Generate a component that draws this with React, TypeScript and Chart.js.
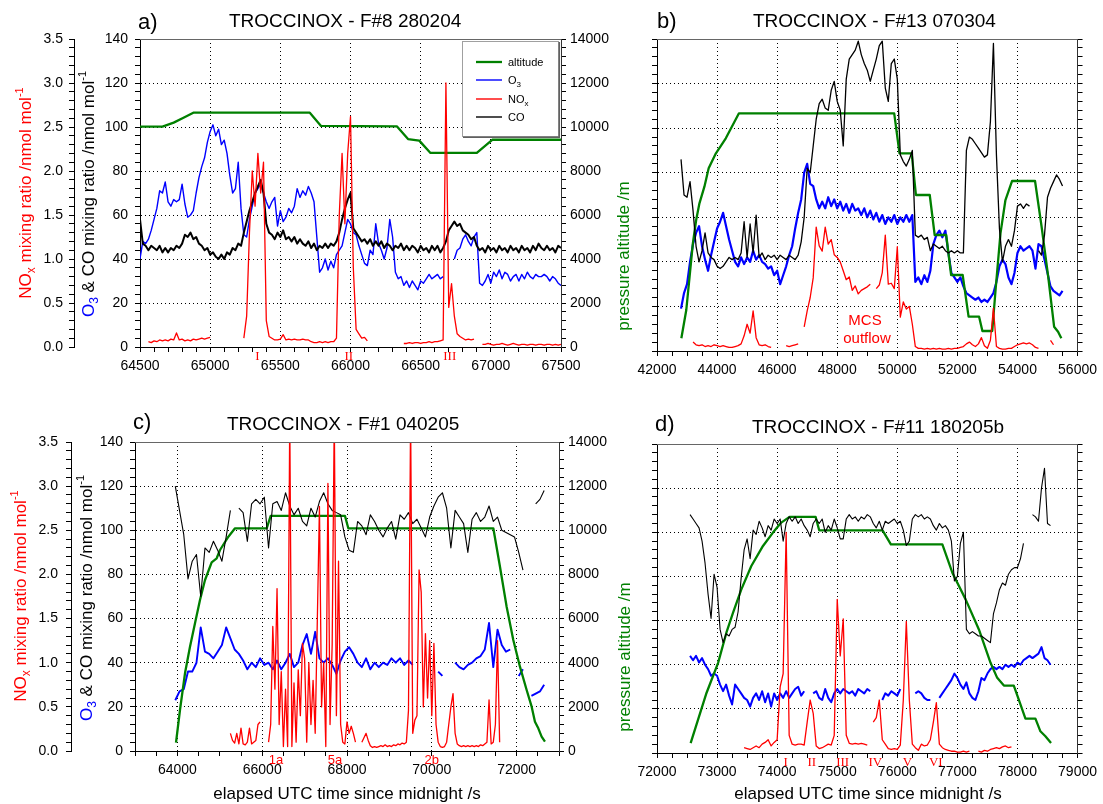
import React, { useEffect, useRef } from "react";
import { Chart, registerables } from "chart.js";

Chart.register(...registerables);

const SANS = "'Liberation Sans', Arial, Helvetica, sans-serif";
const SERIF = "'Liberation Serif', 'Times New Roman', Times, serif";
Chart.defaults.font.family = SANS;

const GREEN = "#008000";
const BLUE = "#0000ff";
const RED = "#ff0000";
const BLACK = "#000000";

// ---------- tick labels ----------
const O3_TICKS = [0, 20, 40, 60, 80, 100, 120, 140];
const O3_GRID = [20, 40, 60, 80, 100, 120];
const NOX_TICKS = [0, 0.5, 1.0, 1.5, 2.0, 2.5, 3.0, 3.5];
const ALT_TICKS = [0, 2000, 4000, 6000, 8000, 10000, 12000, 14000];
const A_XTICKS = [64500, 65000, 65500, 66000, 66500, 67000, 67500];
const A_XGRID = [65000, 65500, 66000, 66500, 67000];
const B_XTICKS = [42000, 44000, 46000, 48000, 50000, 52000, 54000, 56000];
const B_XGRID = [44000, 46000, 48000, 50000, 52000, 54000];
const C_XTICKS = [64000, 66000, 68000, 70000, 72000];
const C_XGRID = [64000, 66000, 68000, 70000, 72000];
const D_XTICKS = [72000, 73000, 74000, 75000, 76000, 77000, 78000, 79000];
const D_XGRID = [73000, 74000, 75000, 76000, 77000, 78000];

// ---------- panel a: TROCCINOX - F#8 280204 ----------
const A_ALT_T = [64500, 64660, 64740, 64810, 64880, 65710, 65790, 66330, 66410, 66490, 66570, 66900, 67010, 67500];
const A_ALT = [10020, 10020, 10200, 10420, 10650, 10650, 10050, 10030, 9450, 9380, 8820, 8820, 9420, 9420];
const A_T0 = 64500;
const A_DT = 20;
const A_O3 = [
  40, 48, 47, 49, 53, 58, 63, 71, 70, 75,
  66, 64, 67, 66, 67, 74, 65, 59, 60, 62,
  70, 77, 82, 86, 93, 98, 101, 96, 99, 92,
  94, 88, 78, 70, 72, 84, 63, 51, 50, 58,
  64, 70, 72, 74, 70, 66, 63, 66, 68, 55,
  62, 57, 59, 63, 61, 64, 72, 68, 71, 69,
  73, 70, 66, 50, 34, 36, 40, 35, 39, 36,
  42, 44, 46, 52, 58, 56, 52, 51, 46, 42,
  38, 37, 44, 42, 56, 47, 44, 40, 45, 58,
  50, 34, 31, 32, 28, 30, 27, 30, 28, 26,
  30, 29, 31, 33, 31, 32, 33, 31, 32, null,
  null, null, 40, 44, 45, 49, 51, 48, 46, 50,
  52, 29, 28, 30, 33, 29, 34, 32, 35, 31,
  34, 33, 30, 32, 33, 30, 33, 31, 34, 32,
  31, 33, 32, 32, 33, 32, 30, 32, 31, 29,
  28,
];
const A_CO = [
  58, 47, 46, 44, 46, 45, 44, 46, 43, 45,
  43, 45, 44, 46, 45, 47, 51, 50, 52, 49,
  50, 47, 46, 44, 45, 42, 43, 41, 40, 42,
  40, 43, 42, 45, 44, 47, 46, 52, 57, 62,
  66, 70, 73, 76, 70, 56, 52, 51, 49, 52,
  50, 53, 49, 50, 48, 50, 47, 49, 47, 46,
  48, 45, 47, 44, 46, 45, 47, 45, 47, 46,
  48, 52, 58, 63, 67, 70, 54, 52, 50, 48,
  49, 47, 49, 46, 48, 46, 48, 45, 47, 46,
  44, 46, 45, 47, 44, 46, 44, 46, 45, 43,
  46, 44, 45, 43, 46, 44, 46, 43, 45, 48,
  53, 55, 57, 55, 56, 53, 52, 51, 49, 50,
  46, 44, 45, 43, 46, 44, 45, 43, 46, 44,
  45, 43, 46, 44, 45, 43, 46, 44, 45, 43,
  46, 44, 47, 45, 44, 46, 44, 45, 43, 46,
  45,
];
const A_NOX = [
  null, null, null, 0.06, 0.05, 0.07, 0.06, 0.08, 0.07, 0.08,
  0.07, 0.09, 0.08, 0.16, 0.08, 0.09, 0.07, 0.08, 0.07, 0.09,
  0.08, 0.09, 0.1, 0.09, 0.1, 0.11, null, null, null, null,
  null, null, null, null, null, null, null, 0.1, 0.35, 1.3,
  2.0, 1.6, 2.2, 1.75, 2.1, 0.3, 0.12, 0.1, 0.08, 0.08,
  0.09, 0.14, 0.08, 0.09, 0.08, 0.09, 0.08, 0.08, 0.09, 0.08,
  0.08, 0.06, 0.05, 0.05, 0.06, 0.05, 0.06, 0.05, 0.06, 0.06,
  0.1, 1.5, 2.2, 1.4, 2.2, 2.62, 0.9, 0.2, 0.15, 0.1,
  0.11, 0.07, null, null, null, null, null, null, null, null,
  null, null, null, null, 0.04, 0.04, 0.05, 0.04, 0.05, 0.05,
  0.04, 0.05, 0.05, 0.06, 0.05, 0.06, 0.06, 0.07, 0.08, 3.0,
  0.45, 0.72, 0.35, 0.15, 0.12, 0.1, 0.08, 0.09, 0.08, 0.09,
  null, null, 0.03, 0.03, 0.04, 0.03, 0.02, 0.03, 0.03, 0.04,
  0.03, 0.02, 0.03, 0.04, 0.03, 0.02, 0.03, 0.03, 0.02, 0.03,
  0.03, 0.02, 0.03, 0.03, 0.02, 0.03, 0.03, 0.02, 0.03, 0.02,
  0.03,
];

// ---------- panel b: TROCCINOX - F#13 070304 ----------
const B_ALT_T = [42811, 42975, 43085, 43194, 43304, 43413, 43578, 43720, 43961, 44290, 44728, 49897, 50073, 50478, 50620, 51080, 51244, 51628, 51792, 52176, 52373, 52723, 52833, 53161, 53271, 53435, 53600, 53819, 54585, 54804, 55023, 55220, 55352, 55461];
const B_ALT = [570, 1840, 3334, 4832, 5878, 6626, 7374, 8196, 8869, 9543, 10665, 10665, 8869, 8869, 7000, 7000, 5205, 5205, 3410, 3410, 1540, 1540, 897, 897, 2737, 5280, 6775, 7628, 7628, 5577, 3334, 1091, 867, 570];
const B_T0 = 42800;
const B_DT = 100;
const B_O3 = [
  19, 26, 30, 40, 48, 53, 56, 47, 41, 36,
  43, 49, 55, 58, 62, 56, 50, 45, 40, 38,
  42, 39, 42, 40, 45, 41, 43, 40, 39, 37,
  38, 34, 36, 30, 34, 38, 43, 47, 55, 62,
  68, 80, 84, 75, 74, 68, 64, 67, 64, 69,
  65, 68, 64, 67, 63, 66, 62, 66, 63, 64,
  61, 64, 60, 63, 59, 62, 58, 61, 57, 60,
  58, 61, 57, 60, 58, 61, 58, 61, 31, 33,
  30, 34, 31, 36, 48, 52, 54, 51, 54, 44,
  35, 33, 31, 33, 29, 26, 25, 24, 23, 24,
  22, 23, 22, 24, 26, 31, 38, 41, 39, 33,
  30, 35, 44, 47, 45, 46, 47, 45, 37, 48,
  47, 41, 35, 29, 27, 26, 25, 27,
];
const B_CO = [
  86, 70, 69, 76, 63, 47, 40, 45, 53, 44,
  42, 41, 38, 37, 38, 40, 42, 41, 42, 41,
  44, 58, 42, 57, 44, 61, 42, 44, 41, 43,
  42, 43, 41, 43, 42, 41, 43, 42, 41, 43,
  49, 60, 82, 80, 92, 104, 111, 113, 109, 108,
  117, 121, 112, 108, 92, 122, 131, 133, 135, 139,
  133, 129, 126, 121, 126, 131, 137, 139, 118, 112,
  129, 131, 122, 88, 85, 83, 86, 90, 52, 51,
  52, 50, 51, 45, 48, 47, 46, 47, 45, 44,
  45, 44, 45, 44, 44, 90, 96, 95, 93, 91,
  89, 87, 88, 103, 138, 88, 55, 40, 47, 50,
  47, 54, 65, 66, 64, 66, 65, null, null, 45,
  43, 52, 69, 73, 76, 79, 77, 74,
];
const B_NOX = [
  null, null, null, null, 0.1, 0.07, 0.06, 0.07, 0.05, 0.06,
  0.05, 0.07, 0.06, 0.05, 0.06, 0.05, 0.04, 0.04, 0.05, 0.06,
  0.08, 0.17, 0.3, 0.2, 0.45, 0.15, 0.07, 0.06, 0.07, 0.05,
  0.04, null, null, null, null, 0.06, 0.05, 0.06, 0.07, 0.08,
  null, 0.27, 0.45, 0.6, 0.82, 1.39, 1.18, 1.12, 1.39, 1.2,
  1.25, 1.08, 1.05, 1.0, 0.9, 0.8, 0.83, 0.68, 0.73, 0.64,
  0.68, 0.7, 0.72, 0.75, null, 0.7, 0.74, 0.88, 1.3, 0.75,
  0.76, 0.7, 1.17, 0.38, 0.55, 0.47, 0.5, 0.3, 0.05, 0.03,
  0.03, 0.02, 0.03, 0.02, 0.03, 0.02, 0.03, 0.02, 0.02, 0.03,
  0.02, 0.03, 0.03, 0.04, 0.05, 0.08, 0.1, 0.07, 0.05, 0.08,
  0.15, 0.06, 0.03, 0.12, 0.48, 0.05, 0.03, 0.02, 0.02, 0.03,
  0.03, 0.05, 0.07, 0.08, 0.09, 0.08, 0.09, 0.07, 0.04, 0.03,
  null, null, null, 0.12, 0.07, null, null, null,
];

// ---------- panel c: TROCCINOX - F#1 040205 ----------
const C_ALT_T = [63967, 64061, 64179, 64297, 64415, 64533, 64651, 64808, 64926, 65005, 65202, 65359, 66106, 66200, 67953, 68031, 71451, 71608, 71765, 71922, 72079, 72237, 72355, 72433, 72512, 72590, 72669];
const C_ALT = [376, 1858, 3520, 4727, 5786, 6842, 7748, 8550, 8731, 9107, 9710, 10090, 10090, 10650, 10650, 10090, 10090, 8350, 6538, 5029, 3820, 2764, 2007, 1328, 1027, 650, 423];
const C_T0 = 63950;
const C_DT = 100;
const C_O3 = [
  23, 27, 28, 36, 36, 40, 56, 45, 44, 42,
  45, 48, 56, 51, 46, 44, 41, 37, 40, 38,
  42, 39, 40, 37, 41, 37, 40, 44, 38, 40,
  48, 53, 44, 54, 42, 40, 42, 39, 35, 41,
  45, 47, 44, 40, 38, 42, 37, 40, 38, 40,
  39, 42, 40, 42, 39, 41, 39, null, null, null,
  null, null, 36, 34, null, null, 40, 38, 37, 39,
  40, 42, 43, 46, 58, 38, 55, 48, 45, 46,
  null, 34, 37, null, 25, 26, 27, 30,
];
const C_CO = [
  120, 109, 98, 78, 86, 89, 70, 92, 90, 95,
  91, 86, 97, 109, null, 110, 108, 95, 112, 114,
  112, 115, 92, 112, 113, 109, 117, 111, 107, 110,
  104, 102, 110, 106, 113, 117, 112, 109, 108, 107,
  97, 91, 90, 104, 102, 98, 107, 104, 100, 97,
  101, 104, 96, 107, 105, 108, 103, 105, 101, 97,
  106, 111, 115, 117, 110, 92, 109, 106, 103, 90,
  105, 108, 104, 106, 111, 104, 106, 100, 99, 98,
  97, 90, 82, null, null, 112, 114, 118,
];
const C_NOX_T0 = 65250;
const C_NOX_DT = 50;
const C_NOX = [
  0.2, 0.12, 0.09, 0.2, 0.08, 0.26, 0.08, 0.07, 0.1, 0.26,
  0.08, 0.1, 0.12, 0.3, 0.33, null, null, null, 0.1, 0.3,
  1.41, 0.7, 1.84, 0.3, 0.9, 0.05, 0.7, 0.05, 3.8, 0.05,
  0.77, 0.1, 0.92, 0.4, 1.22, 1.05, 0.1, 1.0, 0.3, 0.8,
  0.2, 1.48, 2.77, 0.5, 1.0, 0.05, 3.03, 0.3, 1.2, 3.8,
  0.4, 2.15, 0.3, 0.1, 0.08, 0.33, 0.2, 0.28, 0.2, 0.1,
  null, null, 0.1, 0.15, 0.2, 0.12, 0.06, 0.04, 0.05, 0.04,
  0.05, 0.06, 0.05, 0.07, 0.05, 0.06, 0.05, 0.07, 0.06, 0.08,
  0.07, 0.09, 0.08, 0.1, 0.46, 3.8, 0.2, 0.35, 0.4, 2.05,
  1.8, 0.5, 1.33, 0.6, 1.25, 0.4, 1.22, 0.3, 0.1, 0.05,
  0.04, 0.05, 0.1, 0.3, 0.5, 0.65, 0.2, 0.08, 0.06, 0.05,
  0.06, 0.05, 0.06, 0.05, 0.06, 0.05, 0.06, 0.05, 0.07, 0.06,
  0.08, 0.1, 0.58, 0.08, 0.1, 0.3, 1.25, 0.1,
];

// ---------- panel d: TROCCINOX - F#11 180205b ----------
const D_ALT_T = [72560, 72824, 73017, 73155, 73266, 73404, 73570, 73764, 73930, 74068, 74206, 74640, 74700, 75755, 75893, 76750, 76916, 77137, 77358, 77552, 77663, 77774, 77939, 78022, 78133, 78299, 78382, 78465, 78559];
const D_ALT = [450, 2720, 4085, 5450, 6355, 7414, 8473, 9381, 9986, 10440, 10700, 10700, 10090, 10090, 9456, 9456, 8170, 6960, 5598, 4085, 3404, 3056, 3056, 2421, 1558, 1558, 983, 757, 454];
const D_T0 = 72550;
const D_DT = 50;
const D_O3 = [
  44, 42, 44, 41, 43, 40, 38, 35, 36, 35,
  31, 28, 31, 26, 22, 31, 29, 27, 25, 24,
  21, 25, 27, 24, 28, 23, 27, 21, 27, 24,
  27, 25, 28, 25, 27, 29, 30, 26, 28, null,
  null, 27, 28, 25, 24, 29, 25, 23, 27, 29,
  27, 29, 28, 27, 28, 26, 29, 28, 27, 29,
  28, null, null, null, 24, 27, 26, 28, 27, 26,
  29, null, null, null, null, 27, 28, 27, 25, 24,
  24, null, null, 25, 27, 29, 31, 33, 36, 34,
  31, 29, 32, 27, 25, 24, 28, 34, 33, 36,
  38, 39, 38, 39, 38, 40, 39, 40, 39, 41,
  40, 42, 43, 44, 43, 44, 45, 48, 43, 42,
  40,
];
const D_CO = [
  108, 106, 104, 102, 96, 86, 72, 61, 81, 75,
  56, 50, 54, 53, 56, 57, 64, 79, 92, 97,
  88, 101, 99, 105, 102, 98, 103, 101, 106, 104,
  106, 96, 104, 107, 105, 107, 104, 106, 103, 101,
  98, 104, 106, 104, 106, 100, 103, 101, 106, 102,
  97, 97, 106, 108, 106, 107, 105, 107, 106, 108,
  107, 104, 102, 105, 101, 105, 104, 105, 106, 104,
  105, 101, 94, 96, 106, 108, 107, 108, 106, 107,
  106, 103, 101, 104, 102, 103, 101, 96, 78, 80,
  95, 100, 56, 54, 55, 54, 53, 53, 52, 51,
  50, 63, 68, 74, 77, 76, 81, 83, 84, 84,
  88, 95, null, null, 108, 107, 105, 120, 129, 104,
  103,
];
const D_NOX_T0 = 73450;
const D_NOX_DT = 50;
const D_NOX = [
  0.06, 0.05, 0.04, 0.06, 0.08, 0.06, 0.1, 0.12, 0.15, 0.08,
  0.12, 0.15, 0.75, 0.9, 2.5, 0.2, 0.1, 0.09, 0.1, 0.1,
  0.09, 0.35, 0.6, 0.45, 0.08, 0.05, 0.06, 0.08, 0.1, 0.09,
  0.2, 1.74, 1.1, 1.52, 0.2, 0.11, 0.1, 0.11, 0.1, 0.11,
  0.1, 0.09, null, 0.35, 0.4, 0.6, 0.15, 0.1, 0.05, 0.04,
  0.05, 0.04, 0.09, 0.6, 1.49, 0.6, 0.1, 0.06, 0.03, 0.1,
  0.08, 0.09, 0.15, 0.35, 0.57, 0.1, 0.06, 0.04, 0.03, 0.02,
  0.02, 0.01, 0.01, 0.02, 0.01, 0.02, null, null, 0.02, 0.01,
  0.03, 0.02, 0.04, 0.05, 0.06, 0.05, 0.07, 0.08, 0.06, 0.07,
];

// ---------- annotations ----------
const A_MARKS = [{ t: 65336, s: "I" }, { t: 65988, s: "II" }, { t: 66707, s: "III" }];
const C_MARKS = [{ t: 66325, s: "1a" }, { t: 67717, s: "5a" }, { t: 70000, s: "2b" }];
const D_MARKS = [
  { t: 74140, s: "I" }, { t: 74576, s: "II" }, { t: 75090, s: "III" },
  { t: 75633, s: "IV" }, { t: 76169, s: "V" }, { t: 76640, s: "VI" },
];

// ---------- helpers ----------
type Pt = { x: number; y: number | null };
const seq = (t0: number, dt: number, vals: (number | null)[]): Pt[] => vals.map((v, i) => ({ x: t0 + i * dt, y: v }));
const pairs = (ts: number[], vs: number[]): Pt[] => ts.map((t, i) => ({ x: t, y: vs[i] }));
const isIn = (v: number, arr: number[]) => arr.some((a) => Math.abs(a - v) < 1e-6);
const stepTicks = (min: number, max: number, step: number) => {
  const n = Math.round((max - min) / step);
  const out: { value: number }[] = [];
  for (let i = 0; i <= n; i++) out.push({ value: parseFloat((min + i * step).toFixed(6)) });
  return out;
};

type Seg = { t: string; c: string; s: number; dy?: number };
function segWidth(ctx: CanvasRenderingContext2D, segs: Seg[]) {
  let w = 0;
  for (const g of segs) {
    ctx.font = `${g.s}px ${SANS}`;
    w += ctx.measureText(g.t).width;
  }
  return w;
}
function drawSegs(ctx: CanvasRenderingContext2D, segs: Seg[], x: number, y: number) {
  let cx = x;
  for (const g of segs) {
    ctx.font = `${g.s}px ${SANS}`;
    ctx.fillStyle = g.c;
    ctx.fillText(g.t, cx, y + (g.dy || 0));
    cx += ctx.measureText(g.t).width;
  }
}
function drawRotated(ctx: CanvasRenderingContext2D, segs: Seg[], cx: number, cy: number) {
  ctx.save();
  ctx.translate(cx, cy);
  ctx.rotate(-Math.PI / 2);
  ctx.textAlign = "left";
  ctx.textBaseline = "alphabetic";
  const w = segWidth(ctx, segs);
  drawSegs(ctx, segs, -w / 2, 6);
  ctx.restore();
}

const NOX_TITLE: Seg[] = [
  { t: "NO", c: RED, s: 17 }, { t: "x", c: RED, s: 12, dy: 4 },
  { t: " mixing ratio /nmol mol", c: RED, s: 17 }, { t: "-1", c: RED, s: 11, dy: -8 },
];
const O3_TITLE: Seg[] = [
  { t: "O", c: BLUE, s: 17 }, { t: "3", c: BLUE, s: 12, dy: 4 },
  { t: " & CO mixing ratio /nmol mol", c: BLACK, s: 17 }, { t: "-1", c: BLACK, s: 11, dy: -8 },
];
const ALT_TITLE: Seg[] = [{ t: "pressure altitude /m", c: GREEN, s: 17 }];

interface PanelDef {
  key: string;
  left: number; top: number; w: number; h: number;
  padTop: number;
  noxW: number; o3W: number; altW: number; xH: number;
  showLeft: boolean; showRight: boolean;
  noxPad: number; o3Pad: number; altPad: number;
  xMin: number; xMax: number; xStep: number; xLabels: number[]; xGrid: number[];
  letter: string; letterPos: [number, number];
  title: string; titlePos: [number, number];
  marks: { t: number; s: string }[]; markFont: string; markY: number;
  leftTitles?: { nox: [number, number]; o3: [number, number] };
  rightTitle?: [number, number];
  xTitle?: [number, number];
  legend?: boolean;
  notes?: { s: string; x: number; y: number }[];
  o3Width: number; coWidth: number;
  alt: Pt[]; o3: Pt[]; co: Pt[]; nox: Pt[];
}

function drawLegend(ctx: CanvasRenderingContext2D) {
  ctx.save();
  ctx.fillStyle = "#ffffff";
  ctx.fillRect(462, 41, 97, 96);
  ctx.strokeStyle = "#a0a0a0";
  ctx.lineWidth = 1;
  ctx.strokeRect(462.5, 41.5, 96, 95);
  ctx.strokeStyle = "#606060";
  ctx.lineWidth = 1.5;
  ctx.beginPath();
  ctx.moveTo(559.3, 42);
  ctx.lineTo(559.3, 137.3);
  ctx.lineTo(463, 137.3);
  ctx.stroke();
  const rows: { y: number; c: string; w: number; segs: Seg[] }[] = [
    { y: 62, c: GREEN, w: 2.3, segs: [{ t: "altitude", c: BLACK, s: 11 }] },
    { y: 80, c: BLUE, w: 1.4, segs: [{ t: "O", c: BLACK, s: 11 }, { t: "3", c: BLACK, s: 8, dy: 3 }] },
    { y: 99, c: RED, w: 1.4, segs: [{ t: "NO", c: BLACK, s: 11 }, { t: "x", c: BLACK, s: 8, dy: 3 }] },
    { y: 117, c: BLACK, w: 1.4, segs: [{ t: "CO", c: BLACK, s: 11 }] },
  ];
  ctx.textAlign = "left";
  ctx.textBaseline = "alphabetic";
  for (const r of rows) {
    ctx.strokeStyle = r.c;
    ctx.lineWidth = r.w;
    ctx.beginPath();
    ctx.moveTo(476, r.y);
    ctx.lineTo(502, r.y);
    ctx.stroke();
    drawSegs(ctx, r.segs, 508, r.y + 4);
  }
  ctx.restore();
}

function decoPlugin(p: PanelDef) {
  return {
    id: "deco_" + p.key,
    afterDraw(chart: any) {
      const ctx: CanvasRenderingContext2D = chart.ctx;
      const ca = chart.chartArea;
      const xs = chart.scales.x;
      ctx.save();
      ctx.translate(-p.left, -p.top);
      const L = ca.left + p.left;
      const R = ca.right + p.left;
      const T = Math.round(ca.top + p.top) + 0.5;
      ctx.strokeStyle = "#666666";
      ctx.lineWidth = 1;
      ctx.beginPath();
      ctx.moveTo(L, T);
      ctx.lineTo(R, T);
      ctx.stroke();

      ctx.textAlign = "left";
      ctx.textBaseline = "alphabetic";
      ctx.fillStyle = BLACK;
      ctx.font = `22px ${SANS}`;
      ctx.fillText(p.letter, p.letterPos[0], p.letterPos[1]);
      ctx.font = `19px ${SANS}`;
      ctx.fillText(p.title, p.titlePos[0], p.titlePos[1]);

      ctx.fillStyle = RED;
      ctx.textAlign = "center";
      ctx.font = p.markFont;
      for (const m of p.marks) ctx.fillText(m.s, xs.getPixelForValue(m.t) + p.left, p.markY);

      if (p.notes) {
        ctx.font = `15px ${SANS}`;
        ctx.fillStyle = RED;
        for (const n of p.notes) ctx.fillText(n.s, n.x, n.y);
      }

      if (p.leftTitles) {
        drawRotated(ctx, NOX_TITLE, p.leftTitles.nox[0], p.leftTitles.nox[1]);
        drawRotated(ctx, O3_TITLE, p.leftTitles.o3[0], p.leftTitles.o3[1]);
      }
      if (p.rightTitle) drawRotated(ctx, ALT_TITLE, p.rightTitle[0], p.rightTitle[1]);
      if (p.xTitle) {
        ctx.textAlign = "center";
        ctx.fillStyle = BLACK;
        ctx.font = `17px ${SANS}`;
        ctx.fillText("elapsed UTC time since midnight /s", p.xTitle[0], p.xTitle[1]);
      }
      if (p.legend) drawLegend(ctx);
      ctx.restore();
    },
  };
}

function makeConfig(p: PanelDef) {
  const tickFont = { family: SANS, size: 14 };
  const gridColor = (vals: number[]) => (c: any) =>
    c.tick && isIn(c.tick.value, vals) ? "#000000" : "rgba(0,0,0,0)";
  const scales: any = {
    x: {
      type: "linear", position: "bottom", min: p.xMin, max: p.xMax,
      afterBuildTicks: (s: any) => { s.ticks = stepTicks(p.xMin, p.xMax, p.xStep); },
      afterFit: (s: any) => { s.height = p.xH; },
      ticks: {
        autoSkip: false, maxRotation: 0, minRotation: 0, padding: 6, color: "#000", font: tickFont,
        callback: (v: number) => (isIn(v, p.xLabels) ? String(v) : ""),
      },
      grid: { color: gridColor(p.xGrid), tickColor: "#000", tickLength: 5, lineWidth: 1, tickWidth: 1 },
      border: { color: "#000", width: 1, dash: [1, 3] },
    },
    y: {
      type: "linear", position: "left", weight: 0, min: 0, max: 140,
      afterBuildTicks: (s: any) => { s.ticks = stepTicks(0, 140, 4); },
      afterFit: (s: any) => { s.width = p.o3W; },
      ticks: {
        autoSkip: false, padding: p.o3Pad, color: "#000", font: tickFont,
        callback: (v: number) => (p.showLeft && isIn(v, O3_TICKS) ? String(v) : ""),
      },
      grid: { color: gridColor(O3_GRID), tickColor: "#000", tickLength: 5, lineWidth: 1, tickWidth: 1 },
      border: { color: "#000", width: 1, dash: [1, 3] },
    },
    nox: {
      type: "linear", position: "left", weight: 1, min: 0, max: 3.5, display: p.showLeft,
      afterBuildTicks: (s: any) => { s.ticks = stepTicks(0, 3.5, 0.1); },
      afterFit: (s: any) => { s.width = p.noxW; },
      ticks: {
        autoSkip: false, padding: p.noxPad, color: "#000", font: tickFont,
        callback: (v: number) => (isIn(v, NOX_TICKS) ? v.toFixed(1) : ""),
      },
      grid: { drawOnChartArea: false, color: "#000", tickColor: "#000", tickLength: 5, lineWidth: 1 },
      border: { color: "#000", width: 1 },
    },
    alt: {
      type: "linear", position: "right", min: 0, max: 14000,
      afterBuildTicks: (s: any) => { s.ticks = stepTicks(0, 14000, 400); },
      afterFit: (s: any) => { s.width = p.altW; },
      ticks: {
        autoSkip: false, padding: p.altPad, color: "#000", font: tickFont,
        callback: (v: number) => (p.showRight && isIn(v, ALT_TICKS) ? String(v) : ""),
      },
      grid: { drawOnChartArea: false, color: "#000", tickColor: "#000", tickLength: 5, lineWidth: 1 },
      border: { color: "#333", width: 1 },
    },
  };
  const base = { xAxisID: "x", pointRadius: 0, pointHoverRadius: 0, tension: 0, fill: false, spanGaps: false, borderJoinStyle: "round" };
  return {
    type: "line",
    data: {
      datasets: [
        { ...base, label: "altitude", data: p.alt, yAxisID: "alt", borderColor: GREEN, backgroundColor: GREEN, borderWidth: 2.3, order: 2 },
        { ...base, label: "O3", data: p.o3, yAxisID: "y", borderColor: BLUE, backgroundColor: BLUE, borderWidth: p.o3Width, order: 3 },
        { ...base, label: "NOx", data: p.nox, yAxisID: "nox", borderColor: RED, backgroundColor: RED, borderWidth: 1.3, order: 0 },
        { ...base, label: "CO", data: p.co, yAxisID: "y", borderColor: BLACK, backgroundColor: BLACK, borderWidth: p.coWidth, order: 1 },
      ],
    },
    options: {
      responsive: false,
      animation: false,
      devicePixelRatio: 1,
      events: [],
      layout: { padding: { top: p.padTop, left: 0, right: 0, bottom: 0 } },
      plugins: { legend: { display: false }, tooltip: { enabled: false }, title: { display: false } },
      scales,
    },
    plugins: [decoPlugin(p)],
  };
}

const PANELS: PanelDef[] = [
  {
    key: "a", left: 0, top: 0, w: 640, h: 400, padTop: 39,
    noxW: 74, o3W: 66, altW: 79, xH: 53, showLeft: true, showRight: true,
    noxPad: 6, o3Pad: 7, altPad: 4,
    xMin: 64500, xMax: 67500, xStep: 100, xLabels: A_XTICKS, xGrid: A_XGRID,
    letter: "a)", letterPos: [138, 28.5], title: "TROCCINOX - F#8 280204", titlePos: [229, 27],
    marks: A_MARKS, markFont: `13px ${SERIF}`, markY: 360,
    leftTitles: { nox: [25, 193], o3: [88, 194] }, rightTitle: [623, 256], legend: true,
    o3Width: 1.4, coWidth: 2.0,
    alt: pairs(A_ALT_T, A_ALT), o3: seq(A_T0, A_DT, A_O3), co: seq(A_T0, A_DT, A_CO), nox: seq(A_T0, A_DT, A_NOX),
  },
  {
    key: "b", left: 620, top: 0, w: 483, h: 400, padTop: 39,
    noxW: 0, o3W: 37, altW: 20, xH: 49, showLeft: false, showRight: false,
    noxPad: 6, o3Pad: 6, altPad: 4,
    xMin: 42000, xMax: 56000, xStep: 500, xLabels: B_XTICKS, xGrid: B_XGRID,
    letter: "b)", letterPos: [657, 28], title: "TROCCINOX - F#13 070304", titlePos: [753, 27],
    marks: [], markFont: `13px ${SANS}`, markY: 0,
    notes: [{ s: "MCS", x: 865, y: 325 }, { s: "outflow", x: 867, y: 343 }],
    o3Width: 2.2, coWidth: 1.3,
    alt: pairs(B_ALT_T, B_ALT), o3: seq(B_T0, B_DT, B_O3), co: seq(B_T0, B_DT, B_CO), nox: seq(B_T0, B_DT, B_NOX),
  },
  {
    key: "c", left: 0, top: 400, w: 640, h: 404, padTop: 42,
    noxW: 71, o3W: 64, altW: 81, xH: 53, showLeft: true, showRight: true,
    noxPad: 8, o3Pad: 7, altPad: 4,
    xMin: 63000, xMax: 73000, xStep: 500, xLabels: C_XTICKS, xGrid: C_XGRID,
    letter: "c)", letterPos: [133, 429], title: "TROCCINOX - F#1 040205", titlePos: [227, 430],
    marks: C_MARKS, markFont: `13px ${SANS}`, markY: 764,
    leftTitles: { nox: [20, 596], o3: [86, 598] }, rightTitle: [624, 657], xTitle: [347, 799],
    o3Width: 1.9, coWidth: 1.1,
    alt: pairs(C_ALT_T, C_ALT), o3: seq(C_T0, C_DT, C_O3), co: seq(C_T0, C_DT, C_CO), nox: seq(C_NOX_T0, C_NOX_DT, C_NOX),
  },
  {
    key: "d", left: 620, top: 400, w: 483, h: 404, padTop: 44,
    noxW: 0, o3W: 37, altW: 24, xH: 51, showLeft: false, showRight: false,
    noxPad: 6, o3Pad: 6, altPad: 4,
    xMin: 72000, xMax: 79000, xStep: 250, xLabels: D_XTICKS, xGrid: D_XGRID,
    letter: "d)", letterPos: [655, 431], title: "TROCCINOX - F#11 180205b", titlePos: [752, 433],
    marks: D_MARKS, markFont: `13px ${SERIF}`, markY: 766,
    xTitle: [868, 799],
    o3Width: 2.0, coWidth: 1.1,
    alt: pairs(D_ALT_T, D_ALT), o3: seq(D_T0, D_DT, D_O3), co: seq(D_T0, D_DT, D_CO), nox: seq(D_NOX_T0, D_NOX_DT, D_NOX),
  },
];

function Panel({ p }: { p: PanelDef }) {
  const ref = useRef<HTMLCanvasElement | null>(null);
  useEffect(() => {
    if (!ref.current) return;
    const chart = new Chart(ref.current, makeConfig(p) as any);
    return () => chart.destroy();
  }, [p]);
  return (
    <canvas
      ref={ref}
      width={p.w}
      height={p.h}
      style={{ position: "absolute", left: p.left, top: p.top, width: p.w, height: p.h }}
    />
  );
}

export default function App() {
  return (
    <div style={{ position: "absolute", left: 0, top: 0, width: 1103, height: 804, background: "#ffffff", overflow: "hidden" }}>
      {PANELS.map((p) => (
        <Panel key={p.key} p={p} />
      ))}
    </div>
  );
}
